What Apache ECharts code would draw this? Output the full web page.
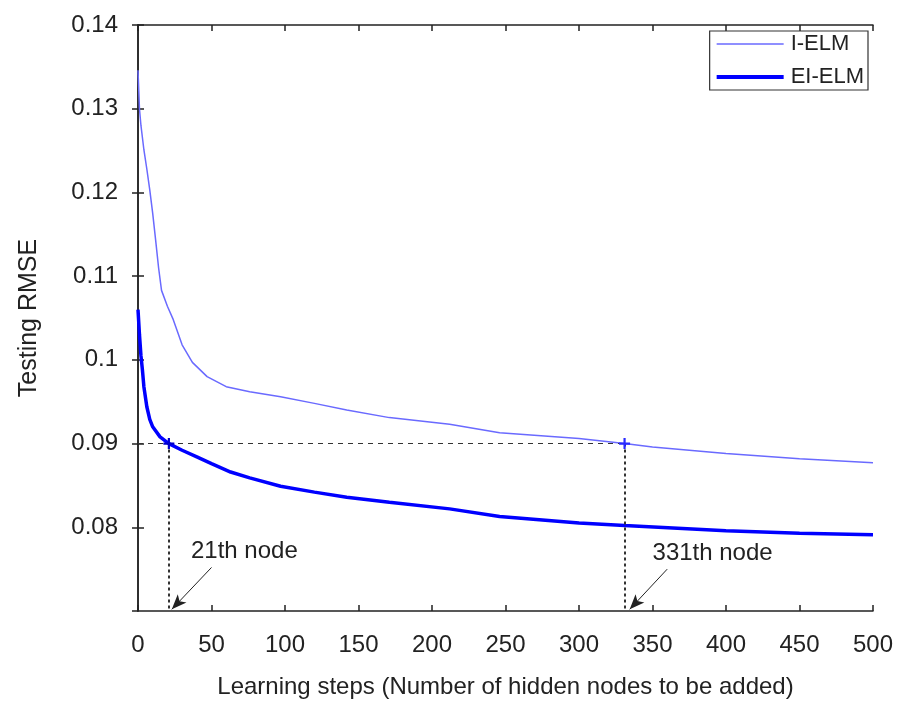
<!DOCTYPE html>
<html>
<head>
<meta charset="utf-8">
<script src="https://cdn.jsdelivr.net/npm/echarts@6/dist/echarts.min.js"></script>
<style>
  html, body { margin: 0; padding: 0; background: #fff; }
  #chart { width: 903px; height: 704px; }
</style>
</head>
<body>
<div id="chart"></div>
<script>
// values
const ielmSteps = [0, 1, 2, 4, 6, 8, 10, 12, 14, 16, 20, 24, 30, 37, 47, 60, 76, 97, 120, 142, 171, 212, 246, 300, 331, 350, 400, 450, 500];
const ielmRmse = [0.1346, 0.1300, 0.1280, 0.1251, 0.1228, 0.1203, 0.1175, 0.1143, 0.1110, 0.1083, 0.1064, 0.1048, 0.1018, 0.0997, 0.0980, 0.0968, 0.0962, 0.0956, 0.0948, 0.0940, 0.0931, 0.0923, 0.0913, 0.0906, 0.0900, 0.0896, 0.0888, 0.0882, 0.0877];

const eielmSteps = [0, 1, 2, 3, 4, 6, 8, 10, 15, 21, 30, 40, 50, 63, 76, 97, 120, 142, 171, 212, 246, 300, 331, 400, 450, 500];
const eielmRmse = [0.1060, 0.1030, 0.1005, 0.0988, 0.0968, 0.0944, 0.0929, 0.0920, 0.0908, 0.0900, 0.0892, 0.0884, 0.0876, 0.0866, 0.0859, 0.0849, 0.0842, 0.0836, 0.0830, 0.0822, 0.0813, 0.0805, 0.0802, 0.0796, 0.0793, 0.0791];

const seriesNames = ['I-ELM', 'EI-ELM'];
const targetRmse = 0.09;
const hitSteps = [21, 331];          // EI-ELM reaches 0.09 at 21, I-ELM at 331
const noteLabels = ['21th node', '331th node'];
const notePos = [[36, 0.0771], [350, 0.0769]];
const arrowFrom = [[50, 0.0752], [360, 0.0750]];
const arrowTo = [[23, 0.0702], [334.5, 0.0702]];

const font = 'Arial, "Liberation Sans", Helvetica, sans-serif';
const ink = '#222';
const plus = 'path://M4,0H6V10H4ZM0,4H10V6H0Z';

const zip = (xs, ys) => xs.map((x, i) => [x, ys[i]]);

const chart = echarts.init(document.getElementById('chart'));

const xBase = {
    type: 'value', min: 0, max: 500, interval: 50,
    axisLine: { show: true, lineStyle: { color: ink, width: 1.5 } },
    axisTick: { show: true, inside: true, length: 6, lineStyle: { color: ink, width: 1.5 } },
    splitLine: { show: false }
};
const yBase = {
    type: 'value', min: 0.07, max: 0.14, interval: 0.01,
    axisLine: { show: true, lineStyle: { color: ink, width: 1.5 } },
    axisTick: { show: true, inside: true, length: 6, lineStyle: { color: ink, width: 1.5 } },
    splitLine: { show: false }
};

const option = {
    animation: false,
    backgroundColor: '#fff',
    textStyle: { fontFamily: font },
    grid: { left: 138, right: 30, top: 25, bottom: 91 },
    legend: {
        data: [
            { name: seriesNames[0], lineStyle: { width: 1.5 } },
            { name: seriesNames[1], lineStyle: { width: 4 } }
        ],
        orient: 'vertical',
        right: 35, top: 31,
        padding: [2, 4, 2, 5],
        itemGap: 11,
        itemWidth: 67, itemHeight: 20,
        borderColor: '#333', borderWidth: 1.2,
        backgroundColor: '#fff',
        itemStyle: { opacity: 0 },
        textStyle: { fontSize: 22, lineHeight: 20, color: ink, fontFamily: font, padding: [0, 0, 0, 2] }
    },
    xAxis: [
        Object.assign({}, xBase, {
            position: 'bottom',
            name: 'Learning steps (Number of hidden nodes to be added)',
            nameLocation: 'middle', nameGap: 64,
            nameTextStyle: { fontSize: 24, color: ink, fontFamily: font },
            axisLabel: { fontSize: 24, color: ink, margin: 22, fontFamily: font }
        }),
        Object.assign({}, xBase, { position: 'top', axisLabel: { show: false } })
    ],
    yAxis: [
        Object.assign({}, yBase, {
            position: 'left',
            name: 'Testing RMSE',
            nameLocation: 'middle', nameGap: 96,
            nameTextStyle: { fontSize: 25, color: ink, fontFamily: font },
            axisLabel: {
                fontSize: 24, color: ink, margin: 20, fontFamily: font,
                showMinLabel: false,
                formatter: v => String(+v.toFixed(2))
            }
        }),
        Object.assign({}, yBase, { position: 'right', axisLabel: { show: false } })
    ],
    series: [
        {
            name: seriesNames[0],
            type: 'line',
            data: zip(ielmSteps, ielmRmse),
            symbol: 'none',
            color: '#6a6aff',
            lineStyle: { color: '#6a6aff', width: 1.5 },
            markPoint: {
                symbol: plus, symbolSize: 11,
                itemStyle: { color: '#2a2aff' },
                label: { show: false },
                data: [{ coord: [hitSteps[1], targetRmse] }]
            },
            z: 3
        },
        {
            name: seriesNames[1],
            type: 'line',
            data: zip(eielmSteps, eielmRmse),
            symbol: 'none',
            color: '#0000ff',
            lineStyle: { color: '#0000ff', width: 3.5 },
            markPoint: {
                symbol: plus, symbolSize: 11,
                itemStyle: { color: '#0000cc' },
                label: { show: false },
                data: [{ coord: [hitSteps[0], targetRmse] }]
            },
            z: 3
        },
        {
            // guide lines, arrows and notes
            type: 'line',
            data: [],
            silent: true,
            markLine: {
                silent: true,
                symbol: ['none', 'none'],
                label: { show: false },
                lineStyle: { color: '#333', width: 1.2, type: [5, 5] },
                data: [
                    [{ coord: [0, targetRmse] }, { coord: [hitSteps[1], targetRmse] }],
                    [{ coord: [hitSteps[0], targetRmse], lineStyle: { type: [3, 3], width: 2 } },
                     { coord: [hitSteps[0], 0.07] }],
                    [{ coord: [hitSteps[1], targetRmse], lineStyle: { type: [3, 3], width: 2 } },
                     { coord: [hitSteps[1], 0.07] }],
                    [{ coord: arrowFrom[0], symbol: 'none', lineStyle: { type: 'solid', width: 1, color: '#222' } },
                     { coord: arrowTo[0], symbol: 'arrow', symbolSize: [9, 15] }],
                    [{ coord: arrowFrom[1], symbol: 'none', lineStyle: { type: 'solid', width: 1, color: '#222' } },
                     { coord: arrowTo[1], symbol: 'arrow', symbolSize: [9, 15] }]
                ]
            },
            markPoint: {
                silent: true,
                symbol: 'circle', symbolSize: 0.1,
                itemStyle: { color: 'transparent' },
                label: {
                    show: true, position: 'right', distance: 0,
                    fontSize: 24, color: ink, fontFamily: font,
                    formatter: p => p.name
                },
                data: noteLabels.map((t, i) => ({ name: t, coord: notePos[i] }))
            },
            z: 2
        }
    ]
};

chart.setOption(option);
</script>
</body>
</html>
